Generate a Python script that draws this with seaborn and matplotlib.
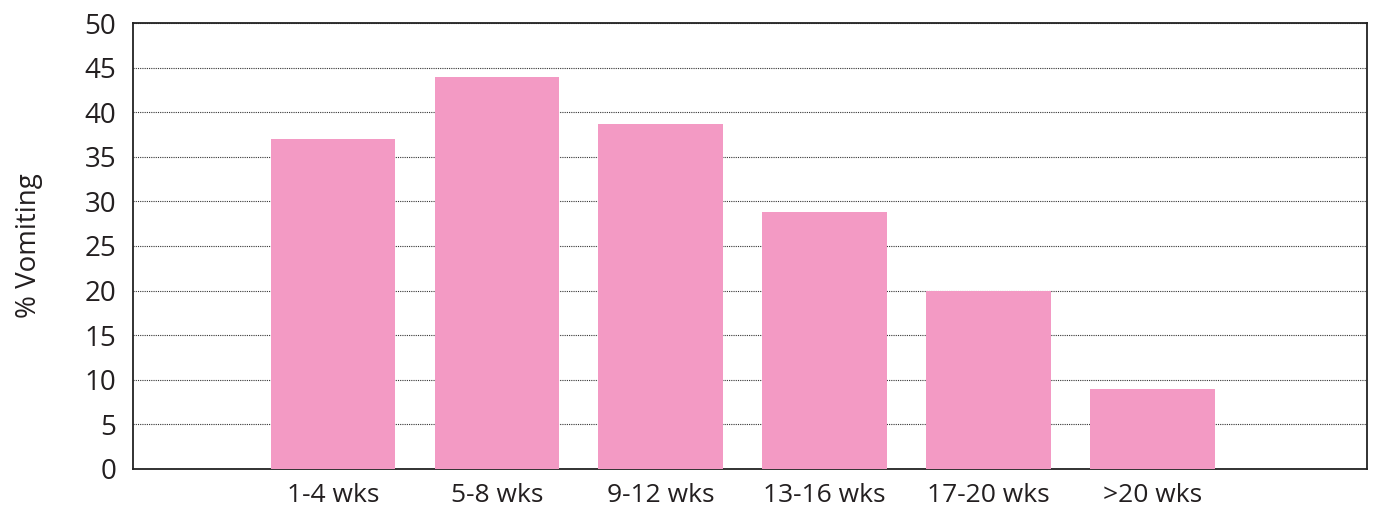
import matplotlib
matplotlib.use("Agg")
import matplotlib.pyplot as plt
import seaborn as sns
import pandas as pd

categories = ["1-4 wks", "5-8 wks", "9-12 wks", "13-16 wks", "17-20 wks", ">20 wks"]
vomiting_pct = [37, 44, 38.7, 28.8, 20, 9]
y_ticks = [0, 5, 10, 15, 20, 25, 30, 35, 40, 45, 50]

sns.set_theme(style="white")
plt.rcParams["font.family"] = ["Open Sans", "DejaVu Sans"]

df = pd.DataFrame({"period": categories, "pct": vomiting_pct})

fig = plt.figure(figsize=(13.73, 5.07), dpi=100)
ax = fig.add_axes([0.0969, 0.075, 0.8987, 0.8796])

sns.barplot(data=df, x="period", y="pct", color="#F39AC4", saturation=1,
            width=0.76, ax=ax, zorder=3, linewidth=0, edgecolor="none")

ax.set_ylim(0, 50)
ax.set_xlim(-1.22, 6.31)
ax.set_yticks(y_ticks)
ax.set_yticklabels([str(t) for t in y_ticks])
ax.yaxis.grid(True, linestyle=(0, (1, 1)), color="#333333", linewidth=0.8, zorder=0)
ax.xaxis.grid(False)
ax.set_axisbelow(True)

for s in ax.spines.values():
    s.set_visible(True)
    s.set_color("#222222")
    s.set_linewidth(1.3)
    s.set_zorder(2)

ax.tick_params(axis="y", length=0, pad=12, labelsize=20, labelcolor="#231f20")
ax.tick_params(axis="x", length=0, pad=10, labelsize=19, labelcolor="#231f20")
ax.set_xlabel("")
ax.set_ylabel("% Vomiting", fontsize=20, color="#231f20", labelpad=30)

fig.savefig("out.png", dpi=100)
